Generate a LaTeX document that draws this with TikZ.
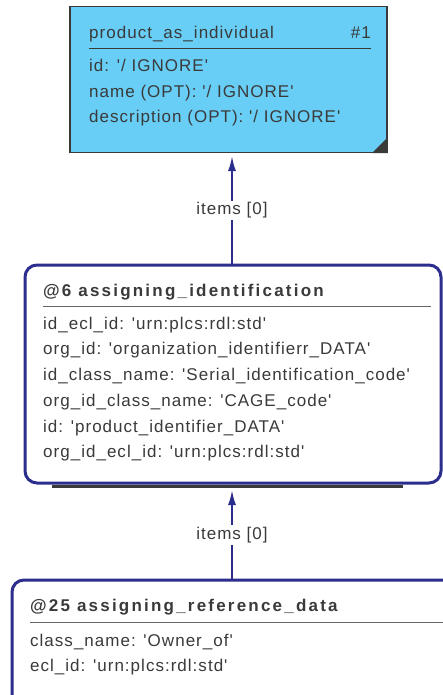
\documentclass[tikz,border=0pt]{standalone}
\usepackage{fontspec}
\setmainfont{Liberation Sans}[Ligatures=TeXOff]
\usetikzlibrary{arrows.meta}
\definecolor{navy}{HTML}{2B2E8C}
\definecolor{txt}{HTML}{3A3A3A}
\definecolor{skyb}{HTML}{68CEF5}
\definecolor{sep}{HTML}{666666}
\begin{document}
\begin{tikzpicture}[x=1pt,y=-1pt,
  lbl/.style={anchor=west, inner sep=0pt, text height=11pt, text depth=3pt,
    font=\fontsize{17}{20}\selectfont\addfontfeatures{LetterSpace=6}, text=txt},
  ttl/.style={lbl, font=\fontsize{17}{20}\selectfont\bfseries\addfontfeatures{LetterSpace=13}},
  entbox/.style={draw=txt, line width=1.5pt, fill=skyb, inner sep=0pt},
  insbox/.style={draw=navy, line width=3pt, rounded corners=12pt, fill=white, inner sep=0pt},
  sepline/.style={draw=sep, line width=1pt},
  conn/.style={draw=navy, line width=2pt, -{Latex[length=15pt,width=8pt]}},
  clbl/.style={fill=white, inner sep=2pt, text=txt,
    font=\fontsize{17}{20}\selectfont\addfontfeatures{LetterSpace=6}}
]
\useasboundingbox (0,0) rectangle (443,695);
\clip (0,0) rectangle (443,695);
\fill[white] (0,0) rectangle (443,695);

% top box
\node[entbox, minimum width=317pt, minimum height=146pt] (top) at (228.5,79.5) {};
\fill[txt] (top.south east) -- ++(0,-16) -- ++(-16,16) -- cycle;
\node[lbl] (t0) at (89,35) {product\_as\_individual};
\node[lbl, anchor=east] (t0n) at (371,35) {\#1};
\coordinate (ts1) at (89,49);
\coordinate (ts2) at (371,49);
\draw[sepline, draw=txt] (ts1) -- (ts2);
\node[lbl] (t1) at (89,68) {id: '/ IGNORE'};
\node[lbl] (t2) at (89,94) {name (OPT): '/ IGNORE'};
\node[lbl] (t3) at (89,119) {description (OPT): '/ IGNORE'};

% middle box
\coordinate (sh1) at (52,486.5);
\coordinate (sh2) at (403,486.5);
\draw[txt, line width=3pt] (sh1) -- (sh2);
\node[insbox, minimum width=416pt, minimum height=218pt] (mid) at (233,374) {};
\node[ttl] (m0) at (43,292) {@6 assigning\_identification};
\coordinate (ms1) at (43,306);
\coordinate (ms2) at (431,306);
\draw[sepline] (ms1) -- (ms2);
\node[lbl] (m1) at (43,325) {id\_ecl\_id: 'urn:plcs:rdl:std'};
\node[lbl] (m2) at (43,350) {org\_id: 'organization\_identifierr\_DATA'};
\node[lbl] (m3) at (43,376) {id\_class\_name: 'Serial\_identification\_code'};
\node[lbl] (m4) at (43,402) {org\_id\_class\_name: 'CAGE\_code'};
\node[lbl] (m5) at (43,428) {id: 'product\_identifier\_DATA'};
\node[lbl] (m6) at (43,453) {org\_id\_ecl\_id: 'urn:plcs:rdl:std'};

% bottom box
\node[insbox, minimum width=460pt, minimum height=160pt] (bot) at (242,660) {};
\node[ttl] (b0) at (30,607) {@25 assigning\_reference\_data};
\coordinate (bs1) at (30,622);
\coordinate (bs2) at (450,622);
\draw[sepline] (bs1) -- (bs2);
\node[lbl] (b1) at (30,642) {class\_name: 'Owner\_of'};
\node[lbl] (b2) at (30,667) {ecl\_id: 'urn:plcs:rdl:std'};

% connectors
\coordinate (a1s) at (232,265);
\coordinate (a1e) at (232,156);
\draw[conn] (a1s) -- node[clbl] (l1) {items [0]} (a1e);
\coordinate (a2s) at (232,580);
\coordinate (a2e) at (232,490);
\draw[conn] (a2s) -- node[clbl] (l2) {items [0]} (a2e);
\end{tikzpicture}
\end{document}
